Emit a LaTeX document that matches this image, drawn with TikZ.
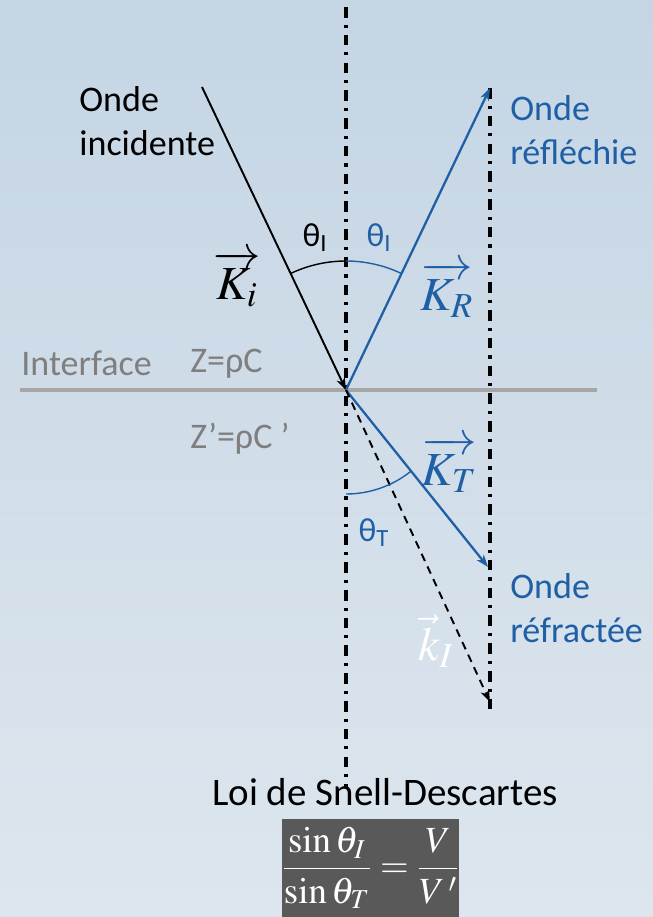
\documentclass[tikz,border=0pt]{standalone}
\usepackage{amsmath}
\usepackage{mathptmx}
\usepackage[no-math]{fontspec}
\setmainfont{Carlito}
\usetikzlibrary{arrows.meta}

\begin{document}
\begin{tikzpicture}[
    x=0.02cm, y=-0.02cm,
    >={Stealth[length=7pt,width=5pt,inset=2pt]},
    normal/.style={line width=2pt, dash pattern=on 6pt off 4pt on 1.8pt off 4pt},
    ray/.style={line width=1.1pt, ->},
    wray/.style={ray, wave, line width=1.3pt},
    txt/.style={font=\fontsize{20.5}{25}\selectfont, align=left, anchor=north west, inner sep=0pt},
    ztxt/.style={font=\fontsize{20.5}{24}\selectfont, text=medgray, anchor=base west, inner sep=0pt},
    ang/.style={font=\fontsize{19}{23}\selectfont, inner sep=0pt},
    vec/.style={font=\fontsize{27}{30}\selectfont, anchor=base west, inner sep=0pt}
  ]
    \definecolor{bgtop}{RGB}{197,213,228}
    \definecolor{bgbot}{RGB}{221,230,238}
    \definecolor{wave}{RGB}{31,95,165}
    \definecolor{medgray}{RGB}{127,127,127}
    \definecolor{linegray}{RGB}{166,166,166}
    \definecolor{boxgray}{RGB}{89,89,89}

    \shade[top color=bgtop, bottom color=bgbot] (0,0) rectangle (653,917);
    \useasboundingbox (0,0) rectangle (653,917);

    \coordinate (O) at (346,390);
    \coordinate (inc) at (202,87);
    \coordinate (refl) at (490,88);
    \coordinate (refr) at (488,567);
    \coordinate (virt) at (490,702);
    \coordinate (ntop) at (346,7);
    \coordinate (nbot) at (346,788);
    \coordinate (rtop) at (490,88);
    \coordinate (rbot) at (490,712);
    \coordinate (ileft) at (20,390);
    \coordinate (iright) at (597,390);

    % interface and normals
    \draw[linegray, line width=2.8pt] (ileft) -- (iright);
    \draw[normal] (ntop) -- (nbot);
    \draw[normal] (rtop) -- (rbot);

    % rays
    \draw[ray] (inc) -- (O);
    \draw[wray] (O) -- (refl);
    \draw[wray] (O) -- (refr);
    \draw[ray, dash pattern=on 4.5pt off 3.4pt] (O) -- (virt);

    % angles
    \draw[line width=0.8pt] (O) ++(244.6:129) arc[start angle=244.6, end angle=270, radius=129];
    \draw[wave, line width=0.8pt] (O) ++(270:129) arc[start angle=270, end angle=295.4, radius=129];
    \draw[wave, line width=0.8pt] (O) ++(90:104) arc[start angle=90, end angle=51.3, radius=104];

    \node[ang] (thi) at (315,238) {θ\textsubscript{I}};
    \node[ang, text=wave] (thr) at (379,238) {θ\textsubscript{I}};
    \node[ang, text=wave] (tht) at (374,533) {θ\textsubscript{T}};

    \node[vec] (ki) at (213,299) {$\overrightarrow{K_i}$};
    \node[vec, text=wave] (kr) at (420,310) {$\overrightarrow{K_R}$};
    \node[vec, text=wave] (kt) at (421,485) {$\overrightarrow{K_T}$};
    \node[vec, text=white] (kI) at (418,660) {$\vec{k}_I$};

    \node[txt] (oinc) at (79,86) {Onde\\incidente};
    \node[txt, text=wave] (orefl) at (510,95) {Onde\\réfléchie};
    \node[txt, text=wave] (orefr) at (510,573) {Onde\\réfractée};

    \node[ztxt] (itf) at (21,375) {Interface};
    \node[ztxt] (z1) at (190,372) {Z=ρC};
    \node[ztxt] (z2) at (190,448) {Z’=ρC ’};

    \node[font=\fontsize{22.2}{26}\selectfont, anchor=base, inner sep=0pt] (loi) at (385,805) {Loi de Snell-Descartes};
    \node[fill=boxgray, text=white, font=\fontsize{21}{25}\selectfont, minimum width=3.46cm, minimum height=1.96cm, inner sep=0pt] (snell) at (370.5,868)
      {$\dfrac{\sin\theta_I}{\sin\theta_T}=\dfrac{V}{V\,\mathrm{'}}$};
  \end{tikzpicture}
\end{document}
